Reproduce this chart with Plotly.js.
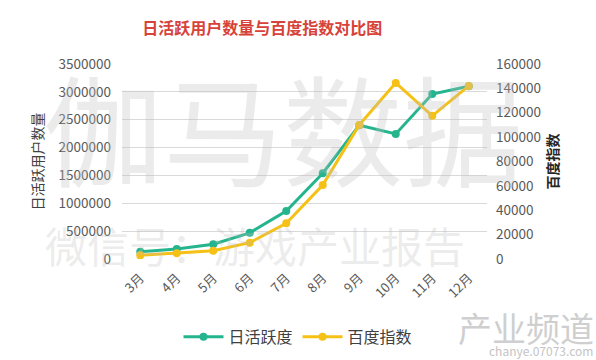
<!DOCTYPE html>
<html>
<head>
<meta charset="utf-8">
<script src="https://cdn.plot.ly/plotly-3.0.1.min.js"></script>
<style>
html,body{margin:0;padding:0;background:#fff;}
#chart{width:596px;height:360px;}
</style>
</head>
<body>
<div id="chart"></div>
<script>
const months = ["3月","4月","5月","6月","7月","8月","9月","10月","11月","12月"];
const dau = [130000, 180000, 265000, 470000, 860000, 1540000, 2400000, 2245000, 2960000, 3100000];
const baidu = [3000, 4800, 6800, 13400, 29300, 60700, 110000, 144500, 117500, 142000];

const green = "#25b58e";
const yellow = "#f5c117";
const font = "'Noto Sans CJK SC', 'Noto Sans', sans-serif";

const traces = [
  {x: months, y: dau, name: "日活跃度", type: "scatter", mode: "lines+markers",
   line: {color: green, width: 3}, marker: {color: green, size: 8}, yaxis: "y"},
  {x: months, y: baidu, name: "百度指数", type: "scatter", mode: "lines+markers",
   line: {color: yellow, width: 3}, marker: {color: yellow, size: 8}, yaxis: "y2"}
];

const layout = {
  width: 596, height: 360,
  margin: {l: 122, r: 109, t: 64, b: 101},
  paper_bgcolor: "#fff", plot_bgcolor: "rgba(0,0,0,0)",
  font: {family: font, color: "#595959", size: 13},
  title: {text: "日活跃用户数量与百度指数对比图", font: {family: font, size: 16, color: "#d7423a", weight: "bold"},
          x: 0.44, xanchor: "center", xref: "container", y: 0.922, yref: "container", yanchor: "middle"},
  xaxis: {type: "category", range: [-0.5, 9.5], tickangle: -45, showgrid: false, zeroline: false, showline: false,
          ticks: "", tickfont: {size: 13, color: "#595959"}, ticklabelstandoff: 8},
  yaxis: {range: [0, 3500000], dtick: 500000, showgrid: true, gridcolor: "#d9d9d9", gridwidth: 1,
          zeroline: false, showline: false, ticks: "", tickformat: "d",
          tickfont: {size: 13.5, color: "#595959"}, ticklabelstandoff: 10,
          title: {text: "日活跃用户数量", font: {size: 14, color: "#404040"}, standoff: 11}},
  yaxis2: {range: [0, 160000], dtick: 20000, overlaying: "y", side: "right", showgrid: false,
           zeroline: false, showline: false, ticks: "", tickformat: "d",
           tickfont: {size: 13.5, color: "#595959"}, ticklabelstandoff: 8,
           title: {text: "百度指数", font: {size: 14, color: "#262626", weight: "bold"}, standoff: 8}},
  showlegend: true,
  legend: {orientation: "h", xref: "container", yref: "container", x: 0.5, xanchor: "center",
           y: 0.064, yanchor: "middle", font: {size: 16, color: "#404040"}, itemwidth: 40},
  annotations: [
    {text: "伽马数据", xref: "paper", yref: "paper", x: 0.44, xanchor: "center", y: 0.68, yanchor: "middle", showarrow: false,
     font: {size: 120, color: "rgba(190,190,190,0.3)", family: font}},
    {text: "微信号：游戏产业报告", xref: "paper", yref: "paper", x: 0.364, xanchor: "center", y: 0.072, yanchor: "middle", showarrow: false,
     font: {size: 42, color: "rgba(190,190,190,0.28)", family: font}},
    {text: "产业频道", xref: "paper", yref: "paper", x: 1.299, xanchor: "right", y: -0.349, yanchor: "middle", showarrow: false,
     font: {size: 34, color: "#cfcfcf", family: font}},
    {text: "chanye.07073.com", xref: "paper", yref: "paper", x: 1.295, xanchor: "right", y: -0.467, yanchor: "middle", showarrow: false,
     font: {size: 12, color: "#c4c4c4", family: font}}
  ]
};

Plotly.newPlot("chart", traces, layout, {displayModeBar: false, staticPlot: true});
</script>
</body>
</html>
